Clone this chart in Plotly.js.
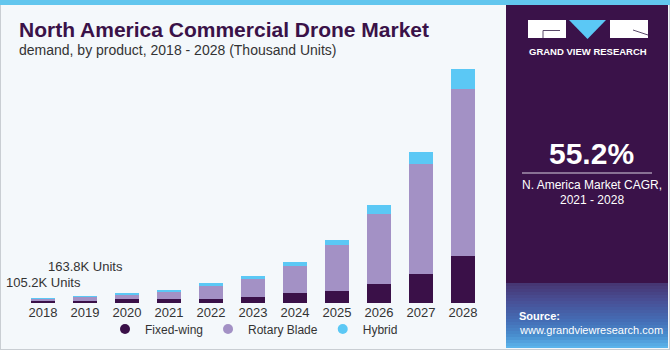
<!DOCTYPE html>
<html>
<head>
<meta charset="utf-8">
<script src="https://cdn.plot.ly/plotly-3.0.1.min.js"></script>
<style>html,body{margin:0;padding:0;background:#f4f8fb;}#chart{width:670px;height:350px;}</style>
</head>
<body>
<div id="chart"></div>
<script>
// ---- data (thousand units) ----
const years = ['2018','2019','2020','2021','2022','2023','2024','2025','2026','2027','2028'];
const fixedWing   = [42, 51, 81, 85, 95, 139, 213, 271, 418, 645, 1027];
const rotaryBlade = [37, 75, 95, 150, 279, 396, 609, 1012, 1540, 2413, 3674];
const hybrid      = [26.2, 37.8, 37, 59, 66, 66, 81, 95, 191, 264, 447];
const seriesNames = ['Fixed-wing', 'Rotary Blade', 'Hybrid'];
const labeledYears = ['2018', '2019'];

// ---- layout geometry ----
const W = 670, H = 350;
const L = 22, R = 484, T = 60, B = 303;
const px = x => (x - L) / (R - L);
const py = y => (B - y) / (B - T);
const yMax = 5346;

const cFixed = '#3a1048', cRotary = '#a391c5', cHybrid = '#5bc8f5';
const panel = '#3a1249';
const font = 'Liberation Sans, Arial, sans-serif';

const traces = [
  {type:'bar', x: years, y: fixedWing, name: seriesNames[0], marker:{color:cFixed}, showlegend:false},
  {type:'bar', x: years, y: rotaryBlade, name: seriesNames[1], marker:{color:cRotary}, showlegend:false},
  {type:'bar', x: years, y: hybrid, name: seriesNames[2], marker:{color:cHybrid}, showlegend:false},
  // legend entries with circle markers (no visible points)
  {type:'scatter', mode:'markers', x:[years[0]], y:[null], name: seriesNames[0], marker:{color:cFixed, size:10}},
  {type:'scatter', mode:'markers', x:[years[0]], y:[null], name: seriesNames[1], marker:{color:cRotary, size:10}},
  {type:'scatter', mode:'markers', x:[years[0]], y:[null], name: seriesNames[2], marker:{color:cHybrid, size:10}}
];

const shapes = [];
function rectPx(x0, y0, x1, y1, color, extra) {
  shapes.push(Object.assign({type:'rect', xref:'paper', yref:'paper', x0:px(x0), x1:px(x1), y0:py(y1), y1:py(y0),
    fillcolor: color, line:{width:0}, layer:'below'}, extra || {}));
}
function linePx(x0, y0, x1, y1, color, w) {
  shapes.push({type:'line', xref:'paper', yref:'paper', x0:px(x0), x1:px(x1), y0:py(y0), y1:py(y1),
    line:{color:color, width:w}, layer:'below'});
}
// outer border
rectPx(0, 0, W, H, 'rgba(0,0,0,0)', {line:{color:'#c9ced3', width:2}});
// top stripe
rectPx(0, 0, W, 5, '#62c6ee');
// right panel
rectPx(506, 5, 668, 348, panel);
// gradient bottom of panel
const stops = [[283,[70,52,112]],[300,[72,78,148]],[320,[68,108,180]],[335,[72,140,205]],[348,[92,182,236]]];
function colAt(y) {
  for (let i = 0; i < stops.length - 1; i++) {
    const [ya, ca] = stops[i], [yb, cb] = stops[i+1];
    if (y <= yb) {
      const t = (y - ya) / (yb - ya);
      return 'rgb(' + ca.map((v, k) => Math.round(v + (cb[k] - v) * t)).join(',') + ')';
    }
  }
  return 'rgb(' + stops[stops.length-1][1].join(',') + ')';
}
for (let y = 283; y < 348; y += 3) rectPx(506, y, 668, Math.min(y + 3, 348), colAt(y + 1.5));
// logo
rectPx(528, 20, 566, 38, '#ffffff');
rectPx(610, 20, 648, 38, '#ffffff');
shapes.push({type:'path', xref:'paper', yref:'paper', layer:'below', fillcolor:cHybrid, line:{width:0},
  path:`M ${px(569)},${py(20)} L ${px(606)},${py(20)} L ${px(587.5)},${py(39)} Z`});
linePx(543, 30.5, 560, 30.5, '#5a4a6a', 1);
linePx(543, 30.5, 543, 38, '#5a4a6a', 1);
linePx(633, 30, 648, 35, '#5a4a6a', 1);
// divider
linePx(522, 173, 652, 173, '#d8d0e0', 1);

const annotations = [
  {text:'North America Commercial Drone Market', x:px(17), y:py(29), xanchor:'left', yanchor:'middle',
   font:{family:font, size:21, color:'#3a1248', weight:'bold'}},
  {text:'demand, by product, 2018 - 2028 (Thousand Units)', x:px(17), y:py(49.5), xanchor:'left', yanchor:'middle',
   font:{family:font, size:14, color:'#333333'}},
  {text:'GRAND VIEW RESEARCH', x:px(588), y:py(51), xanchor:'center', yanchor:'middle',
   font:{family:font, size:9.5, color:'#ffffff', weight:'bold'}},
  {text:'55.2%', x:px(591), y:py(153), xanchor:'center', yanchor:'middle',
   font:{family:font, size:30, color:'#ffffff', weight:'bold'}},
  {text:'N. America Market CAGR,', x:px(592), y:py(185), xanchor:'center', yanchor:'middle',
   font:{family:font, size:12, color:'#ffffff'}},
  {text:'2021 - 2028', x:px(592), y:py(199.5), xanchor:'center', yanchor:'middle',
   font:{family:font, size:12, color:'#ffffff'}},
  {text:'<b>Source:</b>', x:px(517), y:py(316), xanchor:'left', yanchor:'middle',
   font:{family:font, size:11, color:'#ffffff'}},
  {text:'www.grandviewresearch.com', x:px(517), y:py(330), xanchor:'left', yanchor:'middle',
   font:{family:font, size:11, color:'#ffffff'}}
];
const shifts = {'2018': 15.5, '2019': 29};
labeledYears.forEach(yr => {
  const i = years.indexOf(yr);
  const total = fixedWing[i] + rotaryBlade[i] + hybrid[i];
  annotations.push({text: total.toFixed(1) + 'K Units', x: i, y: total, xref:'x', yref:'y',
    xanchor:'center', yanchor:'middle', yshift: shifts[yr], showarrow:false,
    font:{family:font, size:13, color:'#333333'}});
});
annotations.forEach(a => { if (!a.xref) { a.xref = 'paper'; a.yref = 'paper'; a.showarrow = false; } });

const layout = {
  width: W, height: H,
  margin: {l: L, r: W - R, t: T, b: H - B, pad: 0, autoexpand: false},
  paper_bgcolor: '#f4f8fb', plot_bgcolor: 'rgba(0,0,0,0)',
  barmode: 'stack', bargap: 0.43,
  font: {family: font, color: '#333333'},
  xaxis: {type:'category', categoryorder:'array', categoryarray: years, range:[-0.5, years.length - 0.5],
          autorange:false, showgrid:false, zeroline:false, showline:false, ticks:'',
          tickfont:{family:font, size:13, color:'#333333'}, fixedrange:true},
  yaxis: {range:[0, yMax], autorange:false, visible:false, showgrid:false, zeroline:false, fixedrange:true},
  showlegend: true,
  legend: {orientation:'h', x: px(254), xanchor:'center', y: py(329), yanchor:'middle',
           font:{family:font, size:12, color:'#333333'}, bgcolor:'rgba(0,0,0,0)', traceorder:'normal'},
  shapes: shapes,
  annotations: annotations
};

Plotly.newPlot('chart', traces, layout, {displayModeBar:false, staticPlot:true});
</script>
</body>
</html>
